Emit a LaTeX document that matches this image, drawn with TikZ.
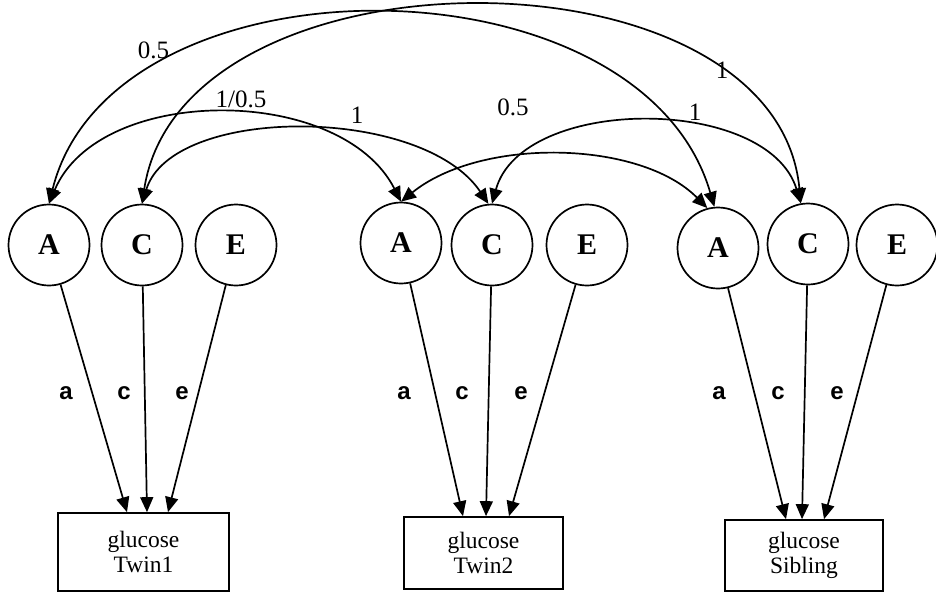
\documentclass[tikz,border=0pt]{standalone}
\usepackage{fontspec}
\setmainfont{Liberation Serif}
\setsansfont{Liberation Sans}
\usetikzlibrary{arrows.meta}
\begin{document}
\begin{tikzpicture}[x=1pt,y=-1pt,
  lat/.style={circle,draw,line width=1.7pt,minimum size=81pt,inner sep=0pt,font=\fontsize{30}{32}\selectfont\bfseries},
  obs/.style={rectangle,draw,line width=1.7pt,align=center,inner sep=0pt,font=\fontsize{23.5}{25}\selectfont},
  pth/.style={line width=1.7pt,-{Triangle[length=15pt,width=13pt]}},
  cov/.style={line width=1.7pt,{Triangle[length=15pt,width=13pt]}-{Triangle[length=15pt,width=13pt]}},
  lab/.style={font=\sffamily\bfseries\fontsize{24}{26}\selectfont},
  num/.style={font=\fontsize{25}{27}\selectfont}]
\useasboundingbox (0,0) rectangle (936,592);
% latent factors
\node[lat] (T1A) at (49,245) {A};
\node[lat] (T1C) at (142,245) {C};
\node[lat] (T1E) at (236,245) {E};
\node[lat] (T2A) at (401,243) {A};
\node[lat] (T2C) at (492,245) {C};
\node[lat] (T2E) at (587,245) {E};
\node[lat] (SA) at (718,248) {A};
\node[lat] (SC) at (808,244) {C};
\node[lat] (SE) at (897,245) {E};
% observed
\node[obs,minimum width=171pt,minimum height=78pt] (B1) at (143.5,552) {glucose\\Twin1};
\node[obs,minimum width=159pt,minimum height=72pt] (B2) at (483.5,553) {glucose\\Twin2};
\node[obs,minimum width=158pt,minimum height=71pt] (B3) at (804,555.5) {glucose\\Sibling};
% paths
\draw[pth] (T1A) -- ([xshift=-16.5pt]B1.north);
\draw[pth] (T1C) -- ([xshift=3.5pt]B1.north);
\draw[pth] (T1E) -- ([xshift=24.5pt]B1.north);
\draw[pth] (T2A) -- ([xshift=-20.5pt]B2.north);
\draw[pth] (T2C) -- ([xshift=2.5pt]B2.north);
\draw[pth] (T2E) -- ([xshift=25.5pt]B2.north);
\draw[pth] (SA) -- ([xshift=-18pt]B3.north);
\draw[pth] (SC) -- ([xshift=-2pt]B3.north);
\draw[pth] (SE) -- ([xshift=20pt]B3.north);
% path labels
\node[lab] (la1) at (66,393) {a};
\node[lab] (lc1) at (124,393) {c};
\node[lab] (le1) at (182,393) {e};
\node[lab] (la2) at (404,393) {a};
\node[lab] (lc2) at (462,393) {c};
\node[lab] (le2) at (521,393) {e};
\node[lab] (la3) at (719,393) {a};
\node[lab] (lc3) at (778,393) {c};
\node[lab] (le3) at (837,393) {e};
% covariances
\draw[cov] (T1A.north) .. controls (112,-50) and (640,-49) .. (SA.95);
\draw[cov] (T1C.north) .. controls (182,-59) and (776,-59) .. (SC.100);
\draw[cov] (T1A.north) .. controls (99,84) and (341,84) .. (T2A.north);
\draw[cov] (T1C.north) .. controls (172,105) and (422,105) .. (T2C.95);
\draw[cov] (T2A.north) .. controls (481,137) and (640,140) .. (SA.105);
\draw[cov] (T2C.north) .. controls (522,95) and (768,95) .. (SC.100);
% covariance labels
\node[num] (n1) at (153.5,50.5) {0.5};
\node[num] (n2) at (722,70) {1};
\node[num] (n3) at (241,99) {1/0.5};
\node[num] (n4) at (357,115) {1};
\node[num] (n5) at (513,107) {0.5};
\node[num] (n6) at (695,112) {1};
\end{tikzpicture}
\end{document}
